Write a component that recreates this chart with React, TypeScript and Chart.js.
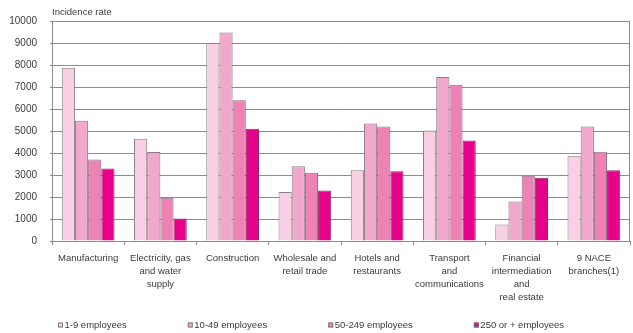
import React, { useEffect, useRef } from "react";
import { Chart, registerables } from "chart.js";

Chart.register(...registerables);

const categories: (string | string[])[] = [
  "Manufacturing",
  ["Electricity, gas", "and water", "supply"],
  "Construction",
  ["Wholesale and", "retail trade"],
  ["Hotels and", "restaurants"],
  ["Transport", "and", "communications"],
  ["Financial", "intermediation", "and", "real estate"],
  ["9 NACE", "branches(1)"],
];

const seriesNames = ["1-9 employees", "10-49 employees", "50-249 employees", "250 or + employees"];

const micro = [7870, 4650, 9000, 2230, 3220, 5020, 750, 3880];
const small = [5470, 4050, 9480, 3400, 5340, 7450, 1800, 5200];
const medium = [3700, 1970, 6400, 3100, 5210, 7100, 2970, 4060];
const large = [3300, 1020, 5100, 2300, 3170, 4570, 2870, 3220];

const yTicks = [0, 1000, 2000, 3000, 4000, 5000, 6000, 7000, 8000, 9000, 10000];

const fills = ["#F9D0E3", "#F2A8CC", "#EE82B4", "#E6008A"];
const edges = ["#8a8088", "#8a7c86", "#8a6f80", "#8c2a66"];

const FONT = "'Liberation Sans', Arial, Helvetica, sans-serif";
const TEXT = "#3a3a3a";
const GRID = "#8c8c8c";

// Frame around the plot area plus the axis caption and the bottom legend.
const decorPlugin = {
  id: "decor",
  afterDraw(chart: any) {
    const { ctx, chartArea } = chart;
    ctx.save();
    ctx.strokeStyle = GRID;
    ctx.lineWidth = 1;
    ctx.strokeRect(
      Math.round(chartArea.left) + 0.5,
      Math.round(chartArea.top) + 0.5,
      Math.round(chartArea.right - chartArea.left) - 1,
      Math.round(chartArea.bottom - chartArea.top)
    );

    ctx.font = `9.5px ${FONT}`;
    ctx.fillStyle = TEXT;
    ctx.textBaseline = "middle";
    ctx.textAlign = "left";
    ctx.fillText("Incidence rate", chartArea.left, 12.5);

    // legend row
    let x = 58;
    const y = 325;
    const box = 5;
    chart.data.datasets.forEach((ds: any) => {
      ctx.fillStyle = ds.backgroundColor;
      ctx.fillRect(x, y - box / 2, box, box);
      ctx.strokeStyle = "#7a7a7a";
      ctx.strokeRect(x + 0.5, y - box / 2 + 0.5, box - 1, box - 1);
      ctx.fillStyle = TEXT;
      const tx = x + box + 1.5;
      ctx.fillText(ds.label, tx, y);
      x = tx + ctx.measureText(ds.label).width + 61;
    });
    ctx.restore();
  },
};

export default function App() {
  const ref = useRef<HTMLCanvasElement | null>(null);

  useEffect(() => {
    document.body.style.margin = "0";
    const canvas = ref.current;
    if (!canvas) return;
    const series = [micro, small, medium, large];
    const chart = new Chart(canvas, {
      type: "bar",
      data: {
        labels: categories,
        datasets: series.map((data, i) => ({
          label: seriesNames[i],
          data,
          backgroundColor: fills[i],
          borderColor: edges[i],
          borderWidth: 1,
          categoryPercentage: 0.73,
          barPercentage: 1.0,
        })),
      },
      options: {
        animation: false,
        responsive: false,
        maintainAspectRatio: false,
        layout: { padding: { top: 21, right: 3, left: 0, bottom: 0 } },
        plugins: {
          legend: { display: false },
          tooltip: { enabled: false },
          title: { display: false },
        },
        scales: {
          x: {
            grid: {
              display: true,
              offset: true,
              drawOnChartArea: false,
              drawTicks: true,
              tickLength: 4,
              color: GRID,
            },
            border: { display: true, color: GRID },
            ticks: {
              color: TEXT,
              font: { family: FONT, size: 9.5, lineHeight: 1.35 },
              padding: 7,
              maxRotation: 0,
              minRotation: 0,
              autoSkip: false,
            },
            afterFit(scale: any) {
              scale.height = 92;
            },
          },
          y: {
            min: 0,
            max: 10000,
            afterBuildTicks(scale: any) {
              scale.ticks = yTicks.map((v) => ({ value: v }));
            },
            grid: {
              color: GRID,
              drawTicks: true,
              tickLength: 2,
            },
            border: { display: true, color: GRID },
            ticks: {
              color: TEXT,
              font: { family: FONT, size: 10 },
              padding: 13,
              callback: (v: any) => String(v),
            },
            afterFit(scale: any) {
              scale.width = 52;
            },
          },
        },
      },
      plugins: [decorPlugin],
    });
    return () => chart.destroy();
  }, []);

  return (
    <div style={{ position: "absolute", left: 0, top: 0, width: 633, height: 333, background: "#fff" }}>
      <canvas ref={ref} width={633} height={333} />
    </div>
  );
}
